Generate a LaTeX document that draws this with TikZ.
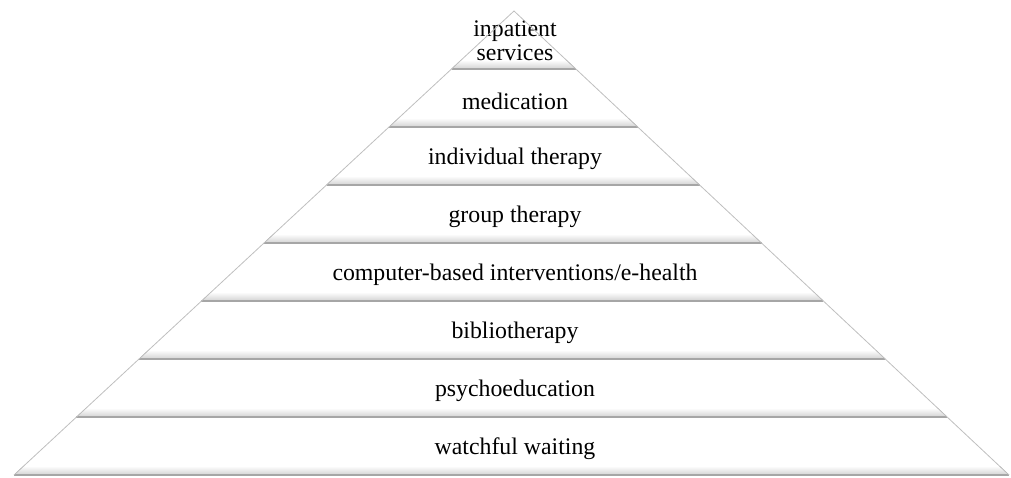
\documentclass[tikz,border=0pt]{standalone}
\usepackage{fontspec}
\setmainfont{Liberation Serif}

\begin{document}
\begin{tikzpicture}[x=0.5pt,y=-0.5pt,
  side/.style={draw=gray!50,line width=0.4pt},
  rim/.style={draw=gray!70,line width=0.9pt},
  layer/.style={font=\fontsize{11.9}{12.2}\selectfont,align=center,inner sep=0pt}]
\useasboundingbox (0,0) rectangle (1011,477);
\foreach \i/\txt in {1/{inpatient\\services},2/medication,3/individual therapy,
  4/group therapy,5/{computer-based interventions/e-health},6/bibliotherapy,
  7/psychoeducation,8/watchful waiting} {
  \pgfmathsetmacro\ya{11+58*(\i-1)}
  \pgfmathsetmacro\yb{11+58*\i}
  \pgfmathsetmacro\la{514-1.0776*(\ya-11)}
  \pgfmathsetmacro\ra{514+1.0668*(\ya-11)}
  \pgfmathsetmacro\lb{514-1.0776*(\yb-11)}
  \pgfmathsetmacro\rb{514+1.0668*(\yb-11)}
  \pgfmathsetmacro\dy{ifthenelse(\i==1,1,3)}
  \begin{scope}
    \clip (\la,\ya) -- (\ra,\ya) -- (\rb,\yb) -- (\lb,\yb) -- cycle;
    \fill[top color=white,bottom color=gray!35] (0,\yb-9) rectangle (1011,\yb);
  \end{scope}
  \draw[rim] (\lb,\yb) -- (\rb,\yb);
  \node[layer] (n\i) at (515,{(\ya+\yb)/2+\dy}) {\txt};
}
\coordinate (top) at (514,11);
\coordinate (bl) at (14,475);
\coordinate (br) at (1009,475);
\draw[side] (bl) -- (top) -- (br);
\end{tikzpicture}
\end{document}
